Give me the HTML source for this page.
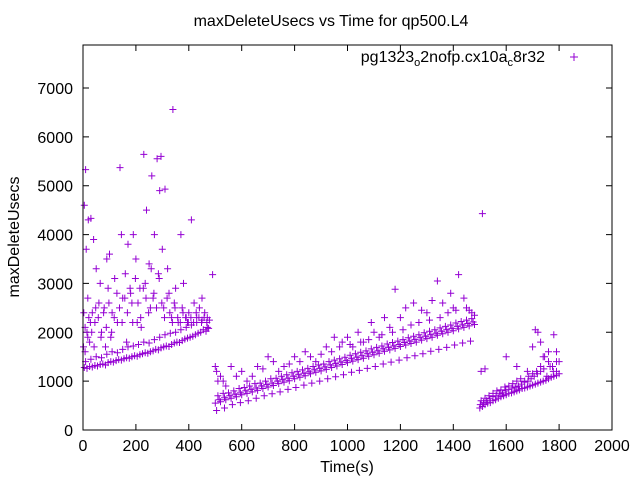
<!DOCTYPE html>
<html><head><meta charset="utf-8"><style>
html,body{margin:0;padding:0;background:#fff;}
svg text{font-family:"Liberation Sans",sans-serif;font-size:16px;fill:#000;}
</style></head><body>
<svg id="chart" width="640" height="480" xmlns="http://www.w3.org/2000/svg">
<rect x="0" y="0" width="640" height="480" fill="#fff"/>
<text x="331" y="26" text-anchor="middle">maxDeleteUsecs vs Time for qp500.L4</text>
<text x="347" y="472" text-anchor="middle">Time(s)</text>
<text transform="translate(19,237) rotate(-90)" text-anchor="middle">maxDeleteUsecs</text>
<g id="axes"></g>
<g id="points"></g>
<rect x="83" y="45" width="529" height="385" fill="none" stroke="#000" stroke-width="1"/>
<text x="545" y="62" text-anchor="end">pg1323<tspan font-size="11" dy="4">o</tspan><tspan dy="-4">2nofp.cx10a</tspan><tspan font-size="11" dy="4">c</tspan><tspan dy="-4">8r32</tspan></text>
<path d="M570,57h8M574,53v8" stroke="#9400d3" stroke-width="1"/>
</svg>
<script>
const xTicks=[0,200,400,600,800,1000,1200,1400,1600,1800,2000];
const yTicks=[0,1000,2000,3000,4000,5000,6000,7000];
const xs1=[5,15,25,35,45,55,65,75,85,95,105,115,125,135,145,155,165,175,185,195,205,215,225,235,245,255,265,275,285,295,305,315,325,335,345,355,365,375,385,395,405,415,425,435,445,455,465,475];
const ys1=[1280,1260,1300,1290,1320,1310,1340,1350,1330,1380,1400,1390,1420,1440,1430,1460,1480,1470,1500,1520,1510,1540,1560,1580,1570,1600,1620,1650,1640,1680,1700,1720,1710,1750,1780,1800,1790,1830,1860,1880,1900,1920,1950,1980,2000,2050,2020,2080];
const xs1b=[10,30,50,70,90,110,130,150,170,190,210,230,250,270,290,310,330,350,370,390,410,430,450,470];
const ys1b=[1400,1450,1500,1480,1550,1600,1580,1650,1700,1720,1750,1800,1780,1850,1900,1950,1980,2000,2050,2100,2150,2200,2250,2300];
const xs1c=[8,18,22,33,42,48,58,68,78,88,98,108,118,128,138,148,158,168,178,188,198,208,218,228,238,248,258,268,278,288,298,308,318,328,338,348,358,368,378,388,398,408,418,428,438,448,458,468,478];
const ys1c=[2100,1900,2300,2000,1700,2500,2300,1900,2400,2100,2600,2000,2300,2800,2500,2200,2700,2400,2900,2200,3100,2600,2300,2900,2700,2400,3300,2800,2500,3100,2600,2300,2700,2400,2200,2500,2300,2200,2400,2300,2200,2300,2200,2400,2300,2200,2300,2200,2250];
const scatterX=[5,10,12,20,30,40,50,60,65,80,90,100,110,120,140,145,160,170,180,190,200,215,230,240,250,260,270,280,290,295,300,310,320,340,350,370,380,395,410,420,450,470,490,15,25,35,45,70,85,95,105,130,150,165,185,205,220,235,255,265,285,305,325,335,345,360,375,390,400,430,440,460,2,8,3,18,28,
500,505,510,520,540,560,600,640,660,700,720,760,800,840,880,920,950,980,1000,1020,1040,1060,1090,1100,1120,1140,1160,1180,1200,1220,1250,1280,1300,1320,1340,1360,1390,1400,1420,1440,1460,1480,1510,1505,1520,
1600,1640,1680,1700,1710,1720,1730,1740,1760,1780,1800,1790];
const scatterY=[4600,5330,3700,4300,4330,3900,3300,2600,3000,2500,3500,3600,2400,3100,5370,4000,3200,3800,2800,4000,3500,2900,5640,4500,3400,5200,4000,5550,4900,5600,3700,4930,3300,6560,2900,4000,3000,2200,4300,2600,2700,2100,3180,2000,1800,2400,2200,2000,1700,2900,1900,2200,2700,1800,2600,2200,2100,3000,2500,2700,3200,2500,2800,2300,2600,2200,2500,2300,2400,2300,2500,2400,1700,1600,2400,2700,2200,
1300,1200,1000,1100,900,1300,1200,1100,1300,1500,1400,1300,1500,1600,1400,1700,1900,1800,1900,1700,2000,1800,2200,2000,1900,2300,2100,2880,2300,2500,2600,2450,2400,2650,3050,2600,2800,2500,3180,2700,2450,2350,4430,1200,1250,
1500,1300,1200,1700,2050,2000,1800,1500,1600,1950,1400,1200];
const xs2=[500,520,540,560,580,600,620,640,660,680,700,720,740,760,780,800,820,840,860,880,900,920,940,960,980,1000,1020,1040,1060,1080,1100,1120,1140,1160,1180,1200,1220,1240,1260,1280,1300,1320,1340,1360,1380,1400,1420,1440,1460,1480];
const ys2=[550,580,620,650,680,720,750,780,810,850,880,910,950,980,1010,1050,1080,1110,1150,1180,1210,1240,1280,1310,1340,1380,1410,1440,1470,1510,1540,1570,1610,1640,1670,1710,1740,1770,1800,1840,1870,1900,1940,1970,2000,2030,2070,2100,2130,2160];
const xs2b=[510,530,550,570,590,610,630,650,670,690,710,730,750,770,790,810,830,850,870,890,910,930,950,970,990,1010,1030,1050,1070,1090,1110,1130,1150,1170,1190,1210,1230,1250,1270,1290,1310,1330,1350,1370,1390,1410,1430,1450,1470];
const ys2b=[700,750,760,800,850,870,900,950,960,1000,1050,1060,1100,1130,1170,1200,1230,1260,1300,1330,1350,1400,1430,1460,1490,1530,1560,1590,1620,1660,1690,1720,1760,1790,1820,1850,1890,1920,1950,1990,2020,2050,2090,2120,2150,2190,2220,2250,2280];
const xs2d=[515,535,555,575,595,615,635,655,675,695,715,735,755,775,795,815,835,855,875,895,915,935,955,975,995,1015,1035,1055,1075,1095,1115,1135,1155,1175,1195,1215,1235,1255,1275,1295,1315,1335,1355,1375,1395,1415,1435,1455,1475];
const ys2d=[620,660,700,730,760,800,830,860,900,930,960,1000,1030,1060,1100,1130,1160,1190,1230,1260,1290,1330,1360,1390,1420,1460,1490,1520,1560,1590,1620,1660,1690,1720,1750,1790,1820,1850,1890,1920,1950,1980,2020,2050,2080,2120,2150,2180,2210];
const xs2c=[505,535,565,595,625,655,685,715,745,775,805,835,865,895,925,955,985,1015,1045,1075,1105,1135,1165,1195,1225,1255,1285,1315,1345,1375,1405,1435,1465];
const ys2c=[400,450,520,560,600,650,700,740,780,830,870,920,960,1000,1050,1090,1130,1180,1220,1260,1300,1350,1390,1430,1480,1520,1560,1610,1650,1690,1740,1780,1820];
const xs2e=[530,580,620,680,740,780,820,860,900,940,970,1010,1050,1080,1130,1170,1210,1240,1270,1310,1350,1380,1410,1450,1470];
const ys2e=[1000,1100,1000,1250,1200,1350,1400,1500,1550,1600,1700,1750,1800,1850,1950,2000,2050,2150,2200,2250,2300,2400,2450,2500,2400];
const xs3=[1500,1510,1520,1530,1540,1550,1560,1570,1580,1590,1600,1610,1620,1630,1640,1650,1660,1670,1680,1690,1700,1710,1720,1730,1740,1750,1760,1770,1780,1790,1800];
const ys3=[450,480,520,550,560,600,620,650,680,700,720,750,760,780,800,820,850,860,880,900,920,940,960,980,1000,1020,1050,1080,1100,1120,1150];
const xs3b=[1505,1520,1535,1550,1565,1580,1595,1610,1625,1640,1655,1670,1685,1700,1715,1730,1745,1760,1775,1790];
const ys3b=[600,650,700,750,800,820,880,900,950,1000,1050,1000,1100,1150,1200,1300,1500,1400,1300,1600];
const xs3c=[1502,1514,1526,1538,1550,1562,1574,1586,1598,1610,1622,1634,1646,1658,1670,1682,1694,1706,1718,1730,1742,1754,1766,1778,1790];
const ys3c=[520,560,600,640,680,700,740,760,800,830,860,880,900,940,980,1000,1050,1100,1150,1200,1250,1100,1300,1200,1400];

const X0=83,X1=612,Y0=430,Y1=45,XMAX=2000,YMAX=7880;
function xScale(v){return X0+(v/XMAX)*(X1-X0);}
function yScale(v){return Y0-(v/YMAX)*(Y0-Y1);}
const NS="http://www.w3.org/2000/svg";
const axes=document.getElementById('axes');
let tick="";
xTicks.forEach(v=>{
  const t=document.createElementNS(NS,'text');
  
  
  t.setAttribute('x',xScale(v));t.setAttribute('y',451);t.setAttribute('text-anchor','middle');
  t.textContent=v;axes.appendChild(t);
  const x=xScale(v);tick+=`M${x},${Y0}v-6M${x},${Y1}v6`;
});
yTicks.forEach(v=>{
  const t=document.createElementNS(NS,'text');
  
  
  t.setAttribute('x',73);t.setAttribute('y',yScale(v)+6);t.setAttribute('text-anchor','end');
  t.textContent=v;axes.appendChild(t);
  const y=yScale(v);tick+=`M${X0},${y}h6M${X1},${y}h-6`;
});
const tp=document.createElementNS(NS,'path');


tp.setAttribute('d',tick);tp.setAttribute('stroke','#000');tp.setAttribute('fill','none');
axes.appendChild(tp);
let d="";
function add(xa,ya){for(let i=0;i<xa.length;i++){const x=xScale(xa[i]),y=yScale(ya[i]);d+=`M${(x-3.5).toFixed(1)},${y.toFixed(1)}h7M${x.toFixed(1)},${(y-3.5).toFixed(1)}v7`;}}
add(xs1,ys1);add(xs1b,ys1b);add(xs1c,ys1c);add(scatterX,scatterY);add(xs2,ys2);add(xs2b,ys2b);add(xs2d,ys2d);add(xs2c,ys2c);add(xs2e,ys2e);add(xs3,ys3);add(xs3b,ys3b);add(xs3c,ys3c);
const pp=document.createElementNS(NS,'path');


pp.setAttribute('d',d);pp.setAttribute('stroke','#9400d3');pp.setAttribute('stroke-width','1');pp.setAttribute('fill','none');
document.getElementById('points').appendChild(pp);
</script>
</body></html>
